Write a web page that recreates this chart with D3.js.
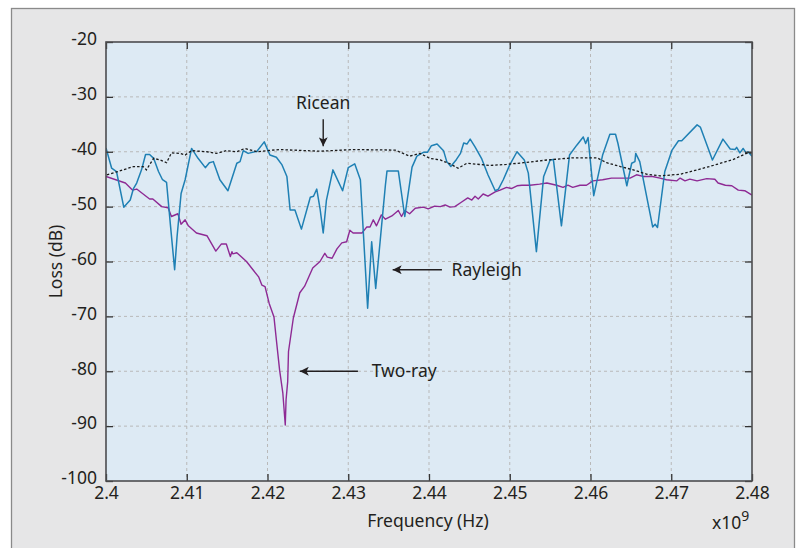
<!DOCTYPE html>
<html><head><meta charset="utf-8">
<script src="https://cdn.jsdelivr.net/npm/d3@7"></script>
<style>body{margin:0;background:#fff}svg{display:block}text{font-family:"Noto Sans","Open Sans",sans-serif;fill:#231f20}</style>
</head><body><svg id="c" width="797" height="548"></svg>
<script>
// Frequency in units of 1e9 Hz, loss in dB
const twoRayF=[2.4000,2.4024,2.4033,2.4038,2.4054,2.4058,2.4069,2.4077,2.4081,2.4089,2.4093,2.4098,2.4102,2.4112,2.4125,2.4136,2.4143,2.4149,2.4154,2.4156,2.4157,2.4162,2.4174,2.4182,2.4189,2.4193,2.4197,2.4202,2.4208,2.4211,2.4215,2.4219,2.4222,2.4223,2.4225,2.4226,2.4232,2.4240,2.4246,2.4256,2.4265,2.4271,2.4274,2.4280,2.4286,2.4292,2.4298,2.4302,2.4306,2.4317,2.4323,2.4327,2.4331,2.4335,2.4341,2.4346,2.4354,2.4362,2.4366,2.4370,2.4376,2.4383,2.4393,2.4399,2.4407,2.4414,2.4420,2.4426,2.4432,2.4440,2.4448,2.4453,2.4457,2.4461,2.4467,2.4473,2.4482,2.4488,2.4496,2.4502,2.4509,2.4515,2.4525,2.4537,2.4546,2.4558,2.4566,2.4572,2.4578,2.4587,2.4595,2.4603,2.4615,2.4626,2.4637,2.4649,2.4657,2.4665,2.4677,2.4686,2.4694,2.4707,2.4711,2.4717,2.4723,2.4732,2.4744,2.4754,2.4758,2.4767,2.4775,2.4783,2.4791,2.4800];
const twoRayL=[-44.5,-45.7,-47.0,-46.8,-48.6,-48.6,-50.0,-50.2,-51.8,-51.3,-53.2,-52.4,-53.5,-54.8,-55.3,-58.1,-56.8,-56.8,-59.1,-58.2,-58.6,-58.4,-60.0,-61.5,-62.8,-64.3,-64.6,-67.6,-70.1,-74.3,-79.8,-84.0,-89.8,-85.2,-81.9,-76.4,-70.3,-65.7,-64.5,-61.2,-60.0,-58.5,-59.2,-59.4,-57.7,-56.6,-56.4,-54.3,-54.8,-54.8,-53.7,-53.7,-52.4,-53.5,-51.5,-52.3,-51.7,-50.7,-51.8,-50.7,-51.3,-50.3,-50.1,-50.4,-49.9,-50.0,-49.7,-50.1,-50.0,-49.2,-48.4,-48.8,-48.1,-48.6,-47.7,-48.1,-47.3,-47.0,-46.5,-46.7,-46.2,-46.1,-46.1,-45.9,-45.7,-46.1,-46.5,-46.1,-46.5,-46.1,-46.1,-45.3,-45.1,-44.8,-44.8,-44.8,-44.2,-44.5,-44.5,-44.8,-45.1,-45.3,-44.8,-45.3,-45.0,-45.3,-44.9,-45.0,-45.7,-46.1,-46.2,-47.0,-47.1,-47.9];

const rayleighF=[2.4000,2.4007,2.4013,2.4022,2.4030,2.4034,2.4038,2.4044,2.4049,2.4054,2.4059,2.4065,2.4070,2.4075,2.4080,2.4085,2.4088,2.4093,2.4098,2.4106,2.4114,2.4123,2.4128,2.4133,2.4141,2.4151,2.4162,2.4166,2.4170,2.4176,2.4187,2.4196,2.4203,2.4211,2.4218,2.4224,2.4228,2.4234,2.4242,2.4253,2.4257,2.4261,2.4265,2.4269,2.4273,2.4281,2.4293,2.4300,2.4308,2.4315,2.4324,2.4329,2.4334,2.4346,2.4348,2.4362,2.4370,2.4379,2.4385,2.4393,2.4398,2.4403,2.4410,2.4418,2.4422,2.4427,2.4434,2.4439,2.4443,2.4447,2.4451,2.4457,2.4465,2.4473,2.4482,2.4486,2.4492,2.4500,2.4509,2.4518,2.4523,2.4533,2.4542,2.4550,2.4554,2.4564,2.4574,2.4583,2.4591,2.4594,2.4597,2.4604,2.4615,2.4624,2.4631,2.4634,2.4645,2.4651,2.4655,2.4656,2.4661,2.4677,2.4680,2.4683,2.4692,2.4701,2.4709,2.4713,2.4732,2.4736,2.4751,2.4764,2.4773,2.4779,2.4781,2.4785,2.4789,2.4793,2.4795,2.4800];
const rayleighL=[-39.3,-43.0,-43.6,-50.1,-48.8,-46.7,-45.7,-43.3,-40.5,-40.5,-41.2,-43.6,-45.1,-45.6,-53.7,-61.5,-55.5,-47.6,-45.1,-39.4,-41.2,-42.9,-42.0,-41.8,-45.1,-47.1,-42.1,-41.8,-39.8,-40.3,-39.9,-38.2,-40.6,-41.0,-42.4,-44.5,-50.6,-50.6,-54.1,-48.3,-48.1,-46.8,-50.3,-54.8,-48.8,-43.3,-47.1,-42.9,-42.2,-45.1,-68.5,-56.4,-64.9,-46.1,-43.5,-43.5,-51.8,-42.8,-40.8,-40.1,-40.1,-38.9,-38.6,-39.8,-41.8,-42.7,-41.4,-40.3,-38.4,-38.6,-37.7,-39.1,-41.2,-44.2,-47.1,-46.8,-45.1,-42.4,-40.0,-41.5,-43.9,-58.2,-44.5,-41.5,-41.4,-53.5,-40.6,-38.8,-37.3,-38.5,-37.4,-48.0,-40.6,-36.8,-36.8,-38.5,-46.2,-42.1,-41.8,-40.3,-41.8,-53.7,-53.2,-53.8,-43.6,-39.7,-38.0,-38.0,-35.1,-35.5,-41.5,-37.7,-39.5,-39.6,-39.2,-40.2,-39.4,-40.3,-40.0,-40.8];

const riceanF=[2.4001,2.4017,2.4034,2.4046,2.4050,2.4059,2.4067,2.4075,2.4081,2.4092,2.4098,2.4106,2.4125,2.4137,2.4149,2.4162,2.4172,2.4187,2.4199,2.4215,2.4265,2.4306,2.4358,2.4368,2.4376,2.4389,2.4401,2.4414,2.4426,2.4436,2.4447,2.4476,2.4496,2.4517,2.4546,2.4579,2.4608,2.4620,2.4637,2.4653,2.4670,2.4686,2.4711,2.4732,2.4752,2.4777,2.4793,2.4800];
const riceanL=[-44.2,-43.5,-42.7,-42.7,-43.3,-41.2,-41.5,-42.0,-40.2,-40.3,-40.6,-39.8,-40.0,-40.3,-39.8,-40.0,-39.4,-40.0,-39.8,-39.6,-39.9,-39.6,-39.7,-40.3,-40.8,-40.3,-41.2,-41.5,-42.2,-43.0,-42.1,-42.5,-42.3,-42.0,-41.5,-41.1,-41.1,-42.0,-42.7,-43.3,-44.1,-44.4,-44.1,-43.3,-42.5,-41.4,-40.3,-40.2];

const xTicks=[2.4,2.41,2.42,2.43,2.44,2.45,2.46,2.47,2.48];
const xTickLabels=["2.4","2.41","2.42","2.43","2.44","2.45","2.46","2.47","2.48"];
const yTicks=[-20,-30,-40,-50,-60,-70,-80,-90,-100];
const yTickLabels=["-20","-30","-40","-50","-60","-70","-80","-90","-100"];

// annotations: label, text anchor point, arrow start, arrow end (data coords)
const annotations=[
 {label:"Ricean", tx:2.4269, ty:-31.1, anchor:"middle", x1:2.4269, y1:-34.1, x2:2.4269, y2:-39.0},
 {label:"Rayleigh", tx:2.4428, ty:-61.5, anchor:"start", x1:2.4416, y1:-61.5, x2:2.4355, y2:-61.5},
 {label:"Two-ray", tx:2.4329, ty:-80.0, anchor:"start", x1:2.4312, y1:-80.0, x2:2.4240, y2:-80.0}
];

const svg=d3.select("#c");
const L=106,T=42,R=752,B=481;
const x=d3.scaleLinear().domain([2.4,2.48]).range([L,R]);
const y=d3.scaleLinear().domain([-100,-20]).range([B,T]);

svg.append("rect").attr("x",11.5).attr("y",8.5).attr("width",783).attr("height",545)
  .attr("fill","#e6e6e7").attr("stroke","#8a8a8a").attr("stroke-width",1.3);
svg.append("rect").attr("x",L).attr("y",T).attr("width",R-L).attr("height",B-T).attr("fill","#ddeaf4");

const defs=svg.append("defs");
defs.append("clipPath").attr("id","clip").append("rect").attr("x",L).attr("y",T).attr("width",R-L).attr("height",B-T);
defs.append("marker").attr("id","ah").attr("viewBox","0 0 10 10").attr("refX",10).attr("refY",5)
  .attr("markerWidth",13).attr("markerHeight",9).attr("markerUnits","userSpaceOnUse").attr("orient","auto")
  .append("path").attr("d","M0,0L10,5L0,10L2.5,5Z").attr("fill","#231f20");

// grid
const g=svg.append("g");
g.selectAll(".gx").data(xTicks.slice(1,-1)).join("line")
  .attr("x1",d=>x(d)).attr("x2",d=>x(d)).attr("y1",T).attr("y2",B)
  .attr("stroke","#b9b9b9").attr("stroke-width",1).attr("stroke-dasharray","3,3");
g.selectAll(".gy").data(yTicks.slice(1,-1)).join("line")
  .attr("y1",d=>y(d)).attr("y2",d=>y(d)).attr("x1",L).attr("x2",R)
  .attr("stroke","#b9b9b9").attr("stroke-width",1).attr("stroke-dasharray","3,3");

const line=d3.line().x(d=>x(d[0])).y(d=>y(d[1]));
const plot=svg.append("g").attr("clip-path","url(#clip)");
plot.append("path").datum(d3.zip(twoRayF,twoRayL)).attr("d",line).attr("fill","none")
  .attr("stroke","#8e2a94").attr("stroke-width",1.4).attr("stroke-linejoin","round");
plot.append("path").datum(d3.zip(rayleighF,rayleighL)).attr("d",line).attr("fill","none")
  .attr("stroke","#1f80b4").attr("stroke-width",1.5).attr("stroke-linejoin","round");
plot.append("path").datum(d3.zip(riceanF,riceanL)).attr("d",line).attr("fill","none")
  .attr("stroke","#1a1a1a").attr("stroke-width",1.3).attr("stroke-dasharray","2.5,2");

// axes with inward ticks
const fmtX=(d,i)=>xTickLabels[i], fmtY=(d,i)=>yTickLabels[i];
function styleAx(sel){sel.select(".domain").remove();sel.selectAll(".tick line").attr("stroke","#333").attr("stroke-width",1.3);
  sel.selectAll("text").style("font-size","17.5px").attr("fill","#231f20");}
svg.append("g").attr("transform",`translate(0,${B})`).call(d3.axisBottom(x).tickValues(xTicks).tickFormat(fmtX).tickSizeInner(-7).tickSizeOuter(0).tickPadding(6)).call(styleAx);
svg.append("g").attr("transform",`translate(0,${T})`).call(d3.axisTop(x).tickValues(xTicks).tickFormat("").tickSizeInner(-7).tickSizeOuter(0)).call(styleAx);
svg.append("g").attr("transform",`translate(${L},0)`).call(d3.axisLeft(y).tickValues(yTicks).tickFormat(fmtY).tickSizeInner(-7).tickSizeOuter(0).tickPadding(9)).call(styleAx)
  .selectAll(".tick text").attr("dy","0.16em");
svg.append("g").attr("transform",`translate(${R},0)`).call(d3.axisRight(y).tickValues(yTicks).tickFormat("").tickSizeInner(-7).tickSizeOuter(0)).call(styleAx);

svg.append("rect").attr("x",L).attr("y",T).attr("width",R-L).attr("height",B-T).attr("fill","none")
  .attr("stroke","#4d4d4f").attr("stroke-width",1.6);

// annotations
annotations.forEach(a=>{
  svg.append("line").attr("x1",x(a.x1)).attr("y1",y(a.y1)).attr("x2",x(a.x2)).attr("y2",y(a.y2))
    .attr("stroke","#231f20").attr("stroke-width",1.4).attr("marker-end","url(#ah)");
  svg.append("text").attr("x",x(a.tx)).attr("y",y(a.ty)).attr("dy","0.35em").attr("text-anchor",a.anchor)
    .style("font-size","17.5px").text(a.label);
});

// axis titles
svg.append("text").attr("transform",`translate(56,${(T+B)/2}) rotate(-90)`).attr("text-anchor","middle")
  .attr("dy","0.35em").style("font-size","17.5px").text("Loss (dB)");
svg.append("text").attr("x",428).attr("y",521).attr("text-anchor","middle").attr("dy","0.35em")
  .style("font-size","17.5px").text("Frequency (Hz)");
const xe=svg.append("text").attr("x",712).attr("y",529).style("font-size","17.5px");
xe.append("tspan").text("x10");
xe.append("tspan").attr("dy",-8).style("font-size","14px").text("9");
</script></body></html>
